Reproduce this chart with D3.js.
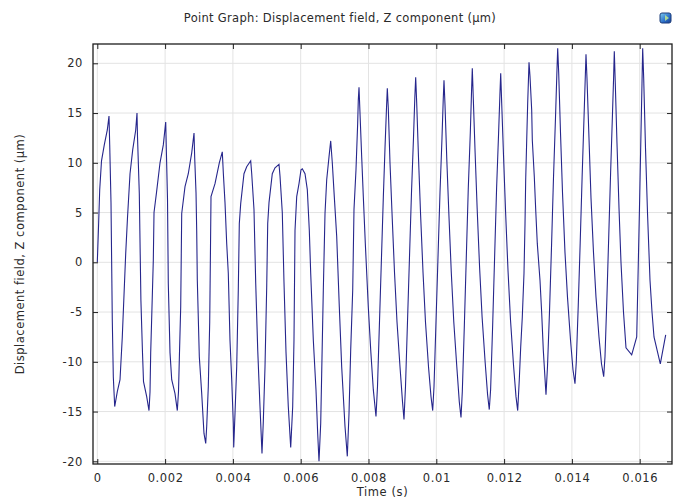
<!DOCTYPE html>
<html>
<head>
<meta charset="utf-8">
<script src="https://cdn.jsdelivr.net/npm/d3@7"></script>
<style>
  html, body { margin: 0; padding: 0; background: #fff; }
  svg { display: block; }
  text { font-family: "DejaVu Sans", sans-serif; fill: #2a2a2a; }
</style>
</head>
<body>
<svg id="chart" width="681" height="499"></svg>
<script>
// ---- data (time in ms, displacement in µm) ----
const timeMs = [
  0.000,0.035,0.071,0.124,0.206,0.295,0.345,0.366,0.404,0.442,0.472,0.513,0.590,0.670,0.737,0.838,0.891,0.965,1.044,1.133,
  1.171,1.186,1.239,1.286,1.333,1.363,1.457,1.525,1.555,1.575,1.605,1.652,1.673,1.746,1.850,1.947,2.018,2.035,2.071,2.094,
  2.145,2.195,2.292,2.360,2.395,2.425,2.460,2.490,2.587,2.684,2.785,2.853,2.873,2.912,2.932,2.950,3.009,3.080,3.147,3.198,
  3.227,3.274,3.316,3.339,3.354,3.472,3.599,3.687,3.717,3.767,3.817,3.864,3.914,3.965,4.012,4.024,4.062,4.112,4.159,4.189,
  4.230,4.327,4.407,4.525,4.555,4.622,4.673,4.732,4.799,4.858,4.897,4.947,4.997,5.027,5.065,5.162,5.242,5.360,5.389,5.457,
  5.507,5.566,5.634,5.705,5.764,5.802,5.832,5.882,5.950,6.009,6.047,6.127,6.195,6.254,6.295,6.372,6.451,6.501,6.540,6.590,
  6.619,6.667,6.717,6.767,6.835,6.885,6.932,6.991,7.062,7.139,7.209,7.307,7.375,7.425,7.475,7.534,7.572,7.631,7.681,7.699,
  7.720,7.749,7.799,7.847,7.906,7.994,8.065,8.142,8.221,8.265,8.324,8.383,8.437,8.487,8.531,8.555,8.584,8.634,8.693,8.767,
  8.841,8.929,9.003,9.047,9.091,9.150,9.209,9.268,9.327,9.366,9.392,9.422,9.475,9.534,9.608,9.681,9.770,9.844,9.894,9.932,
  9.991,10.050,10.109,10.168,10.204,10.227,10.257,10.310,10.369,10.442,10.516,10.605,10.678,10.729,10.767,10.826,10.885,10.944,11.003,11.038,
  11.062,11.091,11.145,11.204,11.277,11.351,11.440,11.513,11.563,11.602,11.661,11.720,11.779,11.838,11.876,11.900,11.929,11.982,12.041,12.115,
  12.189,12.277,12.351,12.401,12.448,12.490,12.537,12.587,12.617,12.637,12.667,12.696,12.735,12.764,12.814,12.832,12.891,12.932,12.979,13.059,
  13.109,13.156,13.236,13.280,13.339,13.398,13.457,13.516,13.555,13.581,13.611,13.664,13.723,13.796,13.870,13.959,14.032,14.091,14.130,14.186,
  14.245,14.301,14.357,14.392,14.416,14.445,14.504,14.563,14.637,14.711,14.799,14.873,14.938,14.976,15.029,15.086,15.142,15.198,15.230,15.251,
  15.280,15.330,15.389,15.448,15.522,15.596,15.764,15.912,15.950,15.994,16.038,16.068,16.088,16.118,16.171,16.230,16.304,16.363,16.422,16.608,
  16.767
];
const dispZ = [
  0,3.5,7.3,10.2,11.8,13.3,14.7,11.8,6,-5.8,-11.5,-14.5,-13,-11.8,-7.5,0.9,4.5,8.9,11.3,13.3,
  15.0,12.6,6.9,-3.8,-9.1,-12,-13.5,-14.9,-13,-9.1,-5.5,0.2,5,7,10,11.8,14.1,11.5,6.3,-2.1,
  -9.1,-11.8,-13.2,-14.9,-13,-9,-4.5,4.9,7.6,8.9,11,13.0,10.5,7,3.2,-1.8,-9.5,-13.2,-17.2,-18.2,
  -16.5,-12.5,-6,1.5,6.6,7.9,10,11.1,9.0,6,1.9,-1.1,-7.8,-11.8,-16.2,-18.6,-15.2,-10.5,-2.8,3.9,
  5.9,8.9,9.6,10.2,8.9,5.3,-2.1,-8.8,-14.5,-19.2,-16,-10.5,-2.5,3.9,6,8.9,9.5,9.85,8.7,5,
  -2,-9,-14.5,-18.6,-14.5,-7.8,3.2,6.6,7.9,9.3,9.4,8.9,7.3,3.2,-1.1,-7.8,-12.8,-17.2,-20.0,-16.2,
  -11.2,-2.8,4.9,8.3,10.6,12.2,10,6.6,2.6,-4.5,-10.5,-16.5,-19.5,-15.2,-8.8,-2.8,5.3,9.3,14,16.3,
  17.6,15,10.6,6.6,1.9,-4.5,-8.8,-12.8,-15.5,-12.5,-6,0.5,6.5,11.5,15.5,17.5,15.5,10,5,-1,
  -6,-10.5,-14,-15.8,-12.5,-6,0.5,7,12.5,16.5,18.6,16,10.5,5,-1,-6,-10.5,-13.5,-14.9,-12.5,
  -6,0.5,7,12.5,16.3,18.3,15.8,10.3,5,-1,-6,-10.5,-14,-15.6,-13,-6.5,0.5,7.5,13,17,
  19.5,16.5,11,5.5,-0.5,-5.5,-10,-13.3,-14.8,-12.8,-6.5,0.5,7.5,13,16.8,19.0,16,10.8,5.3,-0.8,
  -5.8,-10.3,-13.5,-14.9,-11.8,-8.5,-5.5,-1.1,3.9,8.3,12.3,16,20.1,18.7,15.3,12.3,8.6,5.3,1.9,-1.8,
  -5.1,-8.8,-13.3,-10.5,-5,1.5,8.5,14.5,18.8,21.5,19,13,7,1,-3.5,-7.8,-10.8,-12.2,-10,-4.5,
  2,8.5,14.5,18.3,20.9,18.5,12.5,6.5,1,-3.5,-7.5,-10.2,-11.5,-9.5,-4,2.5,9,15,18.5,21.2,
  18,12,5.5,0,-5,-8.6,-9.3,-7.5,-1.5,5.5,13,18,21.5,18.5,11.5,5,-1.8,-5,-7.5,-10.2,
  -7.3
];
const xTicks = [0, 0.002, 0.004, 0.006, 0.008, 0.010, 0.012, 0.014, 0.016];
const xTickLabels = ["0", "0.002", "0.004", "0.006", "0.008", "0.01", "0.012", "0.014", "0.016"];
const yTicks = [-20, -15, -10, -5, 0, 5, 10, 15, 20];
const yTickLabels = ["-20", "-15", "-10", "-5", "0", "5", "10", "15", "20"];
const chartTitle = "Point Graph: Displacement field, Z component (µm)";
const xTitle = "Time (s)";
const yTitle = "Displacement field, Z component (µm)";

// ---- layout ----
const W = 681, H = 499;
const plot = { left: 93, top: 44, right: 672, bottom: 464 };
const svg = d3.select("#chart");
svg.append("rect").attr("width", W).attr("height", H).attr("fill", "#fff");

const x = d3.scaleLinear().domain([-0.000127, 0.016953]).range([plot.left, plot.right]);
const y = d3.scaleLinear().domain([-20.27, 21.94]).range([plot.bottom, plot.top]);

const data = timeMs.map((t, i) => ({ t: t / 1000, v: dispZ[i] }));

// grid
const g = svg.append("g");
g.selectAll("line.gx").data(xTicks).join("line")
  .attr("x1", d => x(d)).attr("x2", d => x(d))
  .attr("y1", plot.top).attr("y2", plot.bottom)
  .attr("stroke", "#e3e3e3").attr("stroke-width", 1);
g.selectAll("line.gy").data(yTicks).join("line")
  .attr("y1", d => y(d)).attr("y2", d => y(d))
  .attr("x1", plot.left).attr("x2", plot.right)
  .attr("stroke", "#e3e3e3").attr("stroke-width", 1);

// line
svg.append("path").datum(data)
  .attr("fill", "none")
  .attr("stroke", "#26268c")
  .attr("stroke-width", 1.1)
  .attr("stroke-linejoin", "miter")
  .attr("d", d3.line().x(d => x(d.t)).y(d => y(d.v)));

// axes with inside ticks
const tickLen = 5;
const fontSize = "11.5px";
const bottomAxis = d3.axisBottom(x).tickValues(xTicks).tickSizeInner(-tickLen).tickSizeOuter(0)
  .tickFormat((d, i) => xTickLabels[i]).tickPadding(10);
const topAxis = d3.axisTop(x).tickValues(xTicks).tickSizeInner(-tickLen).tickSizeOuter(0).tickFormat("");
const leftAxis = d3.axisLeft(y).tickValues(yTicks).tickSizeInner(-tickLen).tickSizeOuter(0)
  .tickFormat((d, i) => yTickLabels[i]).tickPadding(10);
const rightAxis = d3.axisRight(y).tickValues(yTicks).tickSizeInner(-tickLen).tickSizeOuter(0).tickFormat("");

function style(sel) {
  sel.select(".domain").remove();
  sel.selectAll(".tick line").attr("stroke", "#222").attr("stroke-width", 1);
  sel.selectAll(".tick text").attr("fill", "#2a2a2a").style("font-size", fontSize)
     .style("letter-spacing", "0.6px").style("font-family", "'DejaVu Sans', sans-serif");
}
svg.append("g").attr("transform", `translate(0,${plot.bottom})`).call(bottomAxis).call(style);
svg.append("g").attr("transform", `translate(0,${plot.top})`).call(topAxis).call(style);
svg.append("g").attr("transform", `translate(${plot.left},0)`).call(leftAxis).call(style);
svg.append("g").attr("transform", `translate(${plot.right},0)`).call(rightAxis).call(style);

// frame
svg.append("rect")
  .attr("x", plot.left).attr("y", plot.top)
  .attr("width", plot.right - plot.left).attr("height", plot.bottom - plot.top)
  .attr("fill", "none").attr("stroke", "#1e1e1e").attr("stroke-width", 1.3);

// titles
svg.append("text").attr("x", 340).attr("y", 22).attr("text-anchor", "middle")
  .style("font-size", fontSize).style("letter-spacing", "0.3px").text(chartTitle);
svg.append("text").attr("x", (plot.left + plot.right) / 2).attr("y", 496).attr("text-anchor", "middle")
  .style("font-size", fontSize).style("letter-spacing", "0.6px").text(xTitle);
svg.append("text")
  .attr("transform", `translate(24,${(plot.top + plot.bottom) / 2}) rotate(-90)`)
  .attr("text-anchor", "middle")
  .style("font-size", fontSize).style("letter-spacing", "0.5px").text(yTitle);

// small toolbar icon (top right)
const defs = svg.append("defs");
const grad = defs.append("linearGradient").attr("id", "icongrad").attr("x1", 0).attr("y1", 0).attr("x2", 1).attr("y2", 1);
grad.append("stop").attr("offset", "0%").attr("stop-color", "#7fd0f0");
grad.append("stop").attr("offset", "60%").attr("stop-color", "#2a6cc8");
grad.append("stop").attr("offset", "100%").attr("stop-color", "#1a3f8a");
svg.append("rect").attr("x", 660).attr("y", 13).attr("width", 11).attr("height", 10).attr("rx", 2)
  .attr("fill", "url(#icongrad)").attr("stroke", "#1d3c7a").attr("stroke-width", 1);
svg.append("path").attr("d", "M665,15 L669,18 L665,21 Z").attr("fill", "#c8f08a").attr("opacity", 0.8);
</script>
</body>
</html>
